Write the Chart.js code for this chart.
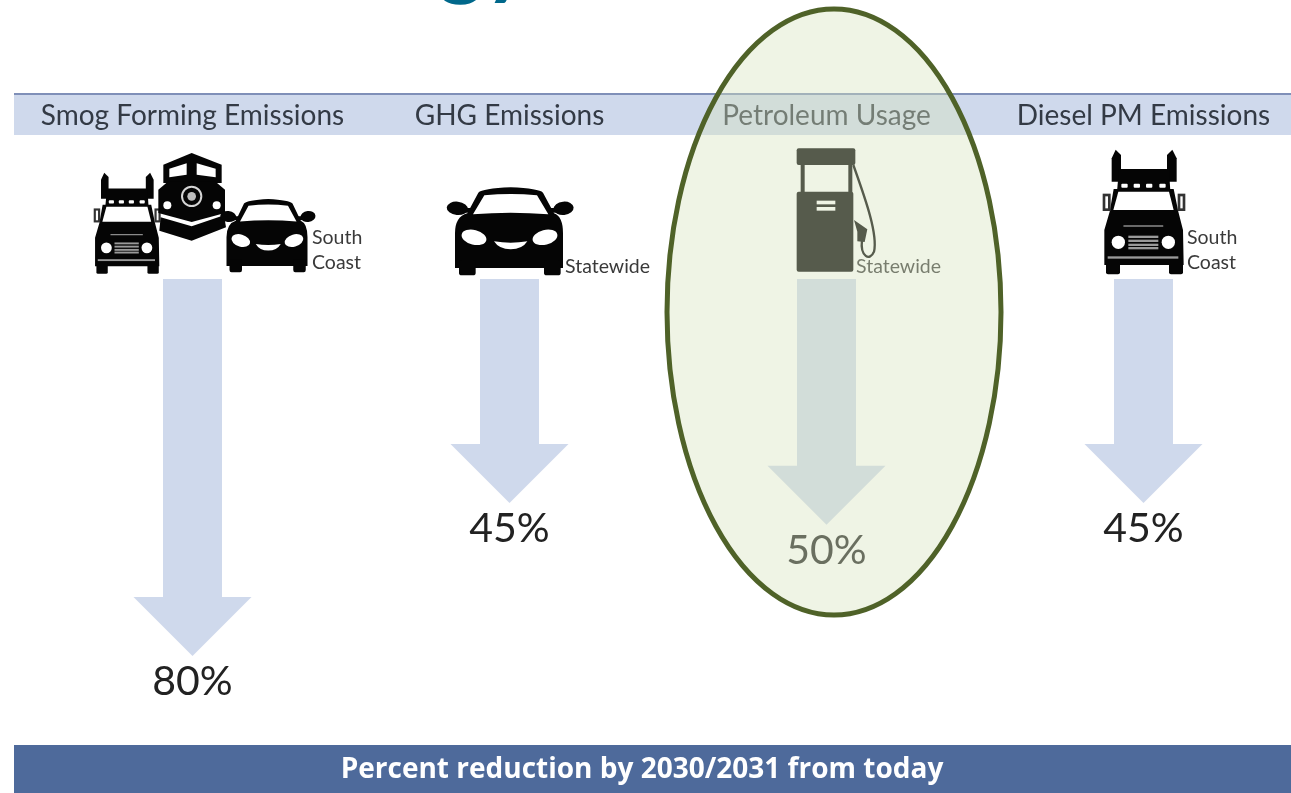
<!DOCTYPE html>
<html>
<head>
<meta charset="utf-8">
<title>Percent reduction by 2030/2031</title>
<style>html,body{margin:0;padding:0;background:#fff;overflow:hidden}canvas{display:block}</style>
<script src="https://cdn.jsdelivr.net/npm/chart.js@4"></script>
</head>
<body>
<canvas id="c" width="1291" height="793"></canvas>
<script>
// Reduction targets, one arrow per category
const categories = ["Smog Forming Emissions", "GHG Emissions", "Petroleum Usage", "Diesel PM Emissions"];
const reductionPercent = [80, 45, 50, 45];
const scopeLabels = [["South", "Coast"], ["Statewide"], ["Statewide"], ["South", "Coast"]];
const footerText = "Percent reduction by 2030/2031 from today";
const arrowStart = -6.25;

const BAND = "#cfd9ec", BAND_LINE = "#7f8fb8", FOOTER = "#4e6a9b", INK = "#050505", LABEL = "#3a3a3a";
const FONT = "Lato, 'Noto Sans', sans-serif";

function poly(ctx, pts) {
  ctx.beginPath();
  pts.forEach((p, i) => i ? ctx.lineTo(p[0], p[1]) : ctx.moveTo(p[0], p[1]));
  ctx.closePath();
}
function rr(ctx, x, y, w, h, r) { ctx.beginPath(); ctx.roundRect(x, y, w, h, r); ctx.fill(); }
function circle(ctx, x, y, r) { ctx.beginPath(); ctx.arc(x, y, r, 0, Math.PI * 2); ctx.fill(); }

// Front view of a semi truck, in a 150x140 unit box (units are thirds)
function drawTruck(ctx, ox, oy, sx, sy) {
  ctx.save(); ctx.translate(ox, oy); ctx.scale(sx / 3, sy / 3);
  ctx.fillStyle = INK;
  poly(ctx, [[50,40],[62,14],[78,30],[78,110],[50,110]]); ctx.fill();
  poly(ctx, [[216,30],[232,14],[245,40],[245,110],[216,110]]); ctx.fill();
  poly(ctx, [[72,72],[222,72],[226,140],[66,140]]); ctx.fill();
  poly(ctx, [[56,132],[236,132],[250,200],[264,255],[266,360],[28,360],[28,255],[44,200]]); ctx.fill();
  rr(ctx, 33, 340, 42, 48, 6); rr(ctx, 222, 340, 42, 48, 6);
  // mirrors
  ctx.strokeStyle = "#333333"; ctx.lineWidth = 8;
  ctx.strokeRect(27, 150, 16, 44); ctx.strokeRect(252, 150, 15, 44);
  ctx.fillStyle = "#ffffff";
  poly(ctx, [[70,140],[222,140],[236,195],[55,195]]); ctx.fill();
  [[79,116],[116,116],[153,116],[193,116]].forEach(p => rr(ctx, p[0], p[1], 19, 12, 3));
  ctx.fillStyle = "#8a8a8a"; rr(ctx, 85, 241, 120, 4, 1);
  ctx.fillStyle = "#ffffff";
  circle(ctx, 70, 292, 20); circle(ctx, 220, 292, 20);
  ctx.fillStyle = "#9a9a9a";
  [272, 284, 296, 306].forEach(y => ctx.fillRect(100, y, 90, 7));
  ctx.fillRect(38, 334, 212, 7);
  ctx.restore();
}

// Front view of a passenger car, in a 220x105 unit box
function drawCar(ctx, ox, oy, sx, sy) {
  ctx.save(); ctx.translate(ox, oy); ctx.scale(sx / 3, sy / 3);
  ctx.fillStyle = INK;
  ctx.beginPath(); ctx.ellipse(55, 85, 32, 20, 0.1, 0, Math.PI * 2); ctx.fill();
  ctx.beginPath(); ctx.ellipse(374, 85, 30, 20, -0.1, 0, Math.PI * 2); ctx.fill();
  ctx.fillRect(70, 84, 30, 14); ctx.fillRect(330, 84, 30, 14);
  ctx.beginPath();
  ctx.moveTo(85, 100);
  ctx.lineTo(118, 38); ctx.quadraticCurveTo(130, 26, 215, 22);
  ctx.quadraticCurveTo(300, 26, 312, 38); ctx.lineTo(345, 100);
  ctx.quadraticCurveTo(372, 110, 372, 160); ctx.lineTo(372, 264); ctx.lineTo(48, 264); ctx.lineTo(48, 160);
  ctx.quadraticCurveTo(48, 110, 85, 100);
  ctx.closePath(); ctx.fill();
  rr(ctx, 60, 240, 50, 46, 8); rr(ctx, 315, 240, 50, 46, 8);
  ctx.fillStyle = "#ffffff";
  ctx.beginPath();
  ctx.moveTo(102, 103); ctx.lineTo(136, 46); ctx.quadraticCurveTo(215, 38, 294, 46);
  ctx.lineTo(328, 103); ctx.quadraticCurveTo(215, 94, 102, 103); ctx.closePath(); ctx.fill();
  ctx.beginPath(); ctx.ellipse(105, 172, 38, 22, 0.25, 0, Math.PI * 2); ctx.fill();
  ctx.beginPath(); ctx.ellipse(318, 172, 38, 22, -0.25, 0, Math.PI * 2); ctx.fill();
  ctx.beginPath(); ctx.moveTo(165, 184); ctx.quadraticCurveTo(215, 192, 265, 184);
  ctx.quadraticCurveTo(250, 208, 215, 208); ctx.quadraticCurveTo(180, 208, 165, 184); ctx.fill();
  ctx.restore();
}

// Front view of a locomotive, in a 90x95 unit box
function drawTrain(ctx, ox, oy) {
  ctx.save(); ctx.translate(ox, oy); ctx.scale(1 / 3, 1 / 3);
  ctx.fillStyle = INK;
  poly(ctx, [[40,105],[40,50],[125,15],[215,50],[215,105]]); ctx.fill();
  poly(ctx, [[25,125],[55,100],[195,100],[225,125],[225,195],[125,222],[25,195]]); ctx.fill();
  poly(ctx, [[32,208],[125,235],[222,202],[228,238],[125,278],[28,248]]); ctx.fill();
  ctx.fillStyle = "#ffffff";
  poly(ctx, [[58,88],[58,62],[110,46],[110,80]]); ctx.fill();
  poly(ctx, [[140,46],[197,62],[197,88],[140,80]]); ctx.fill();
  circle(ctx, 52, 172, 12); circle(ctx, 200, 172, 12);
  ctx.strokeStyle = "#d5d5d5"; ctx.lineWidth = 6;
  ctx.beginPath(); ctx.arc(125, 145, 29, 0, Math.PI * 2); ctx.stroke();
  ctx.fillStyle = "#bdbdbd"; circle(ctx, 125, 145, 13);
  ctx.restore();
}

// Fuel pump with hose and nozzle, in a 200x150 unit box
function drawPump(ctx, ox, oy) {
  ctx.save(); ctx.translate(ox, oy); ctx.scale(1 / 3, 1 / 3);
  ctx.fillStyle = "#000000";
  rr(ctx, 80, 25, 176, 50, 6);
  ctx.fillRect(92, 75, 12, 82); ctx.fillRect(235, 75, 12, 82);
  rr(ctx, 80, 155, 170, 240, 6);
  poly(ctx, [[252,240],[292,268],[284,306],[262,304],[262,275]]); ctx.fill();
  ctx.strokeStyle = "#000000"; ctx.lineWidth = 7;
  ctx.beginPath(); ctx.moveTo(250, 75);
  ctx.bezierCurveTo(280, 160, 325, 280, 312, 335);
  ctx.bezierCurveTo(300, 365, 270, 350, 276, 300); ctx.stroke();
  ctx.fillStyle = "#ffffff";
  ctx.fillRect(140, 182, 56, 11); ctx.fillRect(140, 201, 56, 11);
  ctx.restore();
}

const backdrop = {
  id: "backdrop",
  beforeDraw(chart) {
    const { ctx, width, height, chartArea } = chart;
    ctx.save();
    ctx.fillStyle = "#ffffff"; ctx.fillRect(0, 0, width, height);
    // Clipped heading descenders along the top edge
    ctx.fillStyle = "#00688b"; ctx.font = "700 88px " + FONT;
    ctx.textAlign = "left"; ctx.textBaseline = "alphabetic";
    ctx.fillText("gy", 438, -12);
    ctx.fillStyle = BAND; ctx.fillRect(14, 94, width - 14, chartArea.top + 3.5 - 94);
    ctx.fillStyle = BAND_LINE; ctx.fillRect(14, 93, width - 14, 2);
    ctx.fillStyle = FOOTER; ctx.fillRect(14, chartArea.bottom + 1.6, width - 14, height - chartArea.bottom);
    ctx.restore();
  }
};

// Bars are painted as block arrows whose tips sit on the data value
const arrows = {
  id: "arrows",
  beforeDatasetDraw(chart, args) {
    const ctx = chart.ctx, HEAD = 59, HALF = 59;
    args.meta.data.forEach(bar => {
      const p = bar.getProps(["x", "y", "base", "width"], true);
      const half = p.width / 2;
      ctx.save();
      ctx.fillStyle = BAND;
      poly(ctx, [[p.x - half, p.base], [p.x + half, p.base], [p.x + half, p.y - HEAD],
        [p.x + HALF, p.y - HEAD], [p.x, p.y], [p.x - HALF, p.y - HEAD], [p.x - half, p.y - HEAD]]);
      ctx.fill();
      ctx.restore();
    });
    return false;
  },
  afterDatasetsDraw(chart) {
    const ctx = chart.ctx, bars = chart.getDatasetMeta(0).data;
    ctx.save();
    // Vehicle and pump pictograms above each arrow
    const x0 = bars[0].x, x1 = bars[1].x, x2 = bars[2].x, x3 = bars[3].x;
    drawTruck(ctx, x0 - 105, 169, 0.81, 0.81);
    drawTrain(ctx, x0 - 42.5, 148);
    drawCar(ctx, x0 + 22, 193, 0.75, 0.83);
    drawCar(ctx, x1 - 70.5, 180, 1, 1);
    drawPump(ctx, x2 - 56.5, 140);
    drawTruck(ctx, x3 - 48.5, 145, 1, 1);
    // Scope captions beside the pictograms
    ctx.fillStyle = LABEL; ctx.font = "19.5px " + FONT;
    ctx.textAlign = "left"; ctx.textBaseline = "middle";
    const scopeX = [x0 + 119.5, x1 + 55.5, x2 + 29.5, x3 + 43.5];
    scopeLabels.forEach((lines, i) => {
      if (lines.length === 2) { ctx.fillText(lines[0], scopeX[i], 238); ctx.fillText(lines[1], scopeX[i], 263); }
      else ctx.fillText(lines[0], scopeX[i], 267);
    });
    // Percent labels below the arrow tips
    ctx.fillStyle = "#222222"; ctx.font = "41px " + FONT;
    ctx.textAlign = "center";
    bars.forEach((bar, i) => ctx.fillText(reductionPercent[i] + "%", bar.x, bar.y + 26));
    // Footer caption
    ctx.fillStyle = "#ffffff"; ctx.font = "700 28px 'Open Sans', sans-serif";
    ctx.fillText(footerText, 642, 770);
    // Highlight around the petroleum column
    ctx.beginPath();
    ctx.ellipse(x2 + 7.5, 312, 167, 303, 0, 0, Math.PI * 2);
    ctx.fillStyle = "rgba(215,228,189,0.4)"; ctx.fill();
    ctx.strokeStyle = "#4f6228"; ctx.lineWidth = 5; ctx.stroke();
    ctx.restore();
  }
};

new Chart(document.getElementById("c"), {
  type: "bar",
  data: {
    labels: categories,
    datasets: [{
      data: reductionPercent.map(v => [arrowStart, v]),
      backgroundColor: BAND,
      borderWidth: 0,
      barThickness: 59,
      clip: false
    }]
  },
  plugins: [backdrop, arrows],
  options: {
    responsive: false,
    animation: false,
    layout: { autoPadding: false, padding: { left: 192.5, right: 147.5, top: 91.5, bottom: 49.6 } },
    plugins: { legend: { display: false }, tooltip: { enabled: false } },
    scales: {
      x: {
        position: "top",
        offset: false,
        grid: { display: false, drawTicks: false },
        border: { display: false },
        afterFit(scale) { scale.height = 40; },
        ticks: {
          autoSkip: false, maxRotation: 0, minRotation: 0, padding: -1,
          color: "#333a45",
          font: { family: FONT, size: 28 }
        }
      },
      y: { display: false, reverse: true, min: -40, max: 100 }
    }
  }
});
</script>
</body>
</html>
